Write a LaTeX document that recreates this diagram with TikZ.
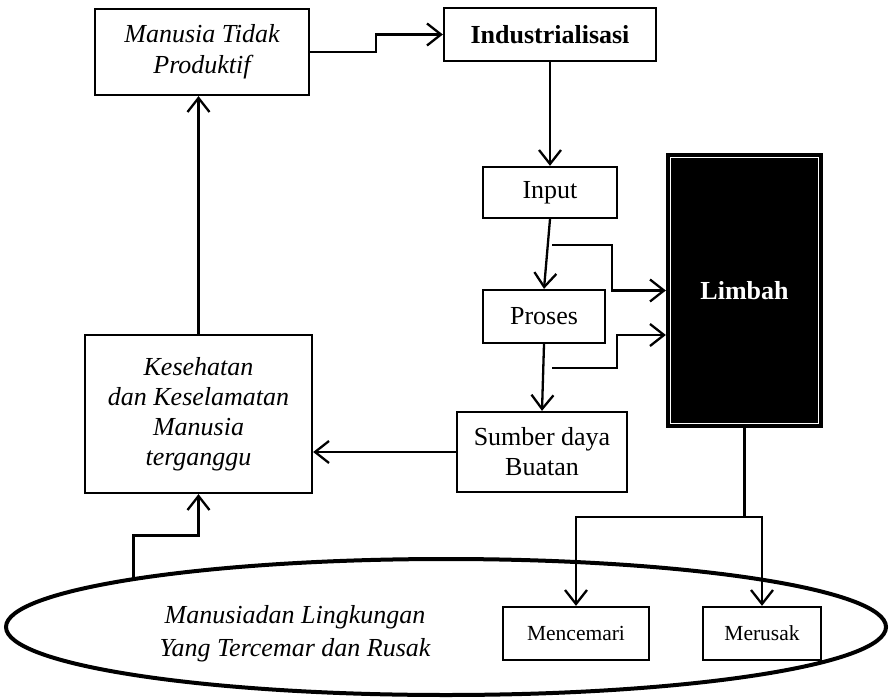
\documentclass[tikz,border=0pt]{standalone}
\usepackage{fontspec}
\setmainfont{Liberation Serif}
\usetikzlibrary{arrows.meta,shapes.geometric}
\begin{document}
\begin{tikzpicture}[x=1pt,y=-1pt,
  fsz/.style={font=\fontsize{26}{31}\selectfont},
  box/.style={draw, line width=2.3pt, fill=white, inner sep=0pt, align=center},
  arr/.style={line width=2.3pt, -{Straight Barb[length=14pt,width=22pt]}},
  ln/.style={line width=2.3pt}]
\useasboundingbox (0,0) rectangle (890,700);
% ellipse
\node[ellipse, draw, line width=4pt, minimum width=880pt, minimum height=136pt, inner sep=0pt] (ell) at (446,627) {};
\node[align=center, font=\itshape\fontsize{26}{33}\selectfont] (elltext) at (295,634) {Manusiadan Lingkungan\\Yang Tercemar dan Rusak};
% boxes
\node[box, minimum width=214pt, minimum height=86pt, font=\itshape\fontsize{26}{31}\selectfont] (mtp) at (202,52) {Manusia Tidak\\Produktif};
\node[box, minimum width=212pt, minimum height=53pt, font=\bfseries\fontsize{26}{31}\selectfont] (ind) at (550,34.5) {Industrialisasi};
\node[box, fsz, minimum width=134pt, minimum height=51pt] (inp) at (550,192.5) {Input};
\node[box, fsz, minimum width=122pt, minimum height=53pt] (pro) at (544,316.5) {Proses};
\node[box, font=\fontsize{26}{30}\selectfont, minimum width=170pt, minimum height=80pt] (sdb) at (542,452) {Sumber daya\\Buatan};
\node[box, minimum width=227pt, minimum height=158pt, font=\itshape\fontsize{26}{30}\selectfont] (kes) at (198.5,414) {Kesehatan\\dan Keselamatan\\Manusia\\terganggu};
\node[box, fill=black, text=white, minimum width=155pt, minimum height=273pt, font=\bfseries\fontsize{26}{31}\selectfont] (lim) at (744.5,290.5) {Limbah};
\draw[white, line width=1.2pt] ([shift={(4.5pt,-4.5pt)}]lim.north west) rectangle ([shift={(-4.5pt,4.5pt)}]lim.south east);
\node[box, font=\fontsize{21.5}{26}\selectfont, minimum width=146pt, minimum height=53pt] (mnc) at (576,633.5) {Mencemari};
\node[box, font=\fontsize{21.5}{26}\selectfont, minimum width=118pt, minimum height=53pt] (mrs) at (762,633.5) {Merusak};
% connectors
\draw[arr] (mtp.east) -- ++(66,0) |- (ind.west);
\draw[arr] (ind.south) -- (inp.north);
\draw[arr] (inp.south) -- (pro.north);
\draw[arr] (pro.south) -- (sdb.north);
\coordinate (c1) at (552,245);
\coordinate (c2) at (552,368);
\draw[arr] (c1) -- ++(60,0) |- (lim.west);
\draw[arr] (c2) -- ++(65,0) |- ([yshift=-44.5pt]lim.west);
\draw[arr] (sdb.west) -- (sdb.west -| kes.east);
\draw[arr] (kes.north) -- (kes.north |- mtp.south);
\draw[arr] (ell.171) -- ++(0,-42) -| (kes.south);
\draw[ln] (lim.south) -- ++(0,89) coordinate (j);
\draw[arr] (j) -| (mnc.north);
\draw[arr] (j) -| (mrs.north);
\end{tikzpicture}
\end{document}
